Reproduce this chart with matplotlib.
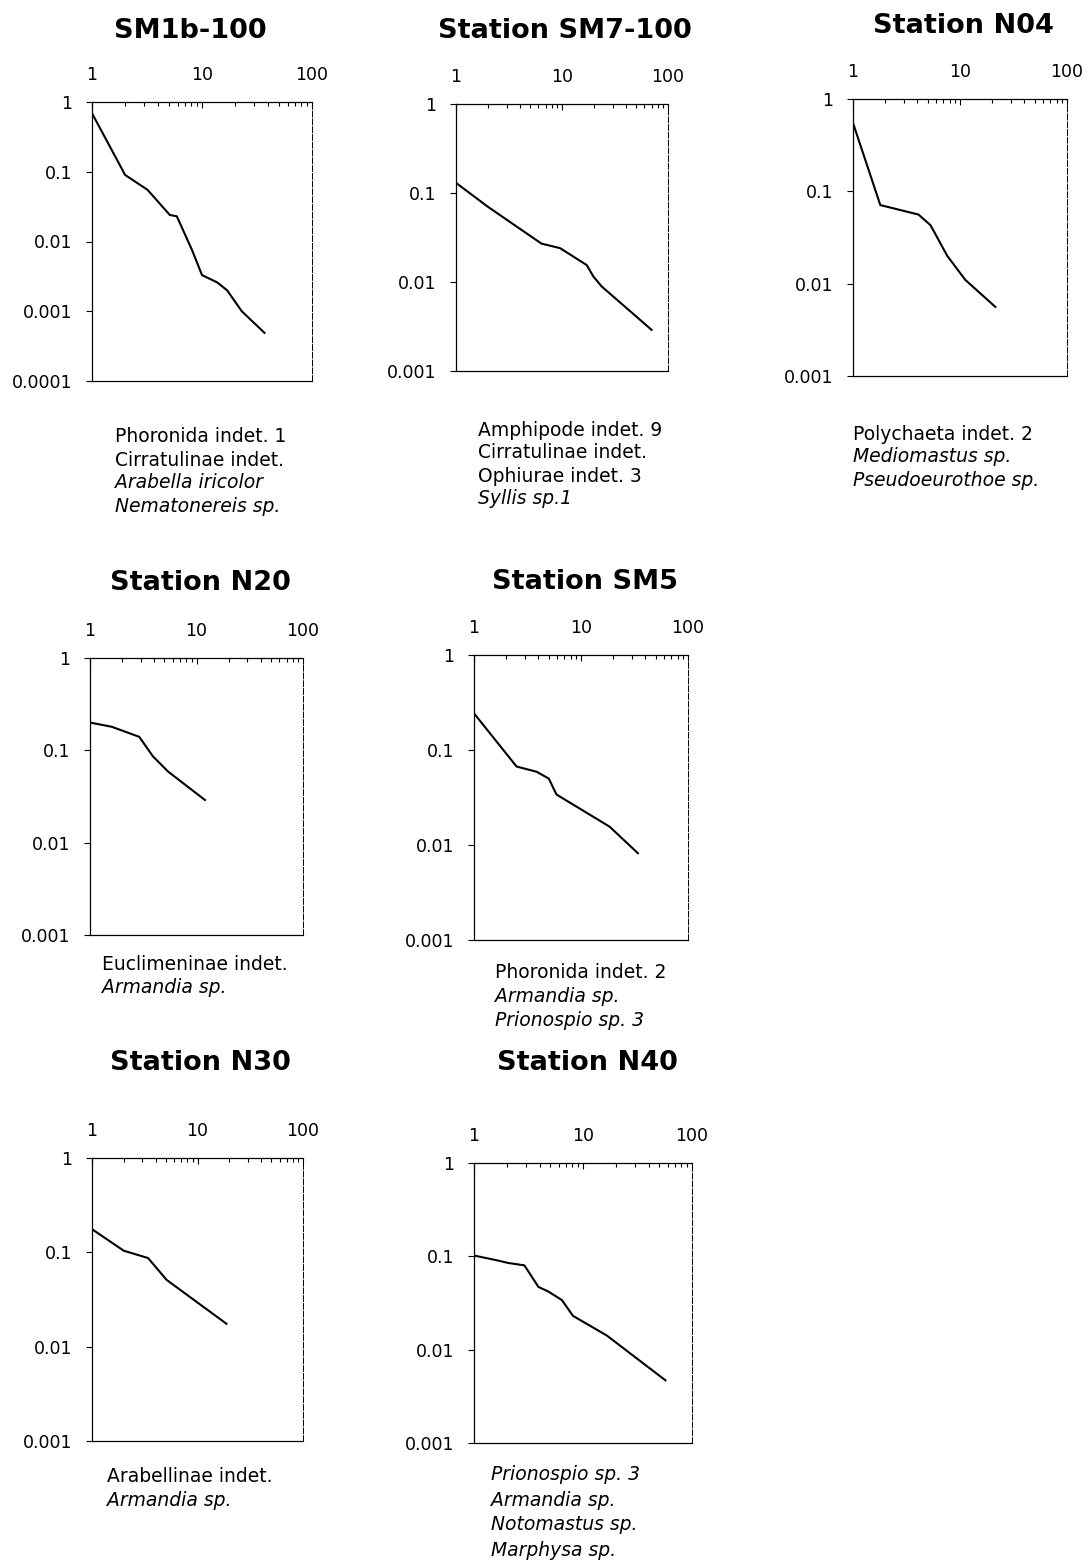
import numpy as np
import matplotlib
matplotlib.use('Agg')
import matplotlib.pyplot as plt
from matplotlib.ticker import FixedLocator, FixedFormatter, LogLocator, NullFormatter

plt.rcParams['font.family'] = ['DejaVu Sans']

# rank (x) vs. proportional abundance (y)
sm1b_rank = [1, 2, 3.2, 5.1, 5.9, 8.1, 10, 13.7, 16.9, 23, 37]
sm1b_prop = [0.69, 0.09, 0.055, 0.024, 0.023, 0.0076, 0.0033, 0.0026, 0.002, 0.001, 0.00049]

sm7_rank = [1, 2, 6.4, 9.6, 17.1, 19.8, 23.7, 70]
sm7_prop = [0.13, 0.070, 0.027, 0.024, 0.0155, 0.0115, 0.0089, 0.0029]

n04_rank = [1, 1.8, 4.1, 5.3, 7.6, 11.2, 21.4]
n04_prop = [0.55, 0.071, 0.056, 0.043, 0.020, 0.011, 0.0056]

n20_rank = [1, 1.6, 2.9, 3.9, 5.4, 12]
n20_prop = [0.20, 0.18, 0.14, 0.086, 0.059, 0.029]

sm5_rank = [1, 2.5, 3.85, 5.0, 5.9, 18.5, 34]
sm5_prop = [0.243, 0.067, 0.059, 0.050, 0.034, 0.0156, 0.0082]

n30_rank = [1, 2.0, 3.4, 5.1, 18.8]
n30_prop = [0.176, 0.104, 0.087, 0.051, 0.0175]

n40_rank = [1, 1.6, 2.05, 2.9, 3.9, 4.8, 6.4, 8.1, 16.5, 57]
n40_prop = [0.102, 0.091, 0.085, 0.080, 0.047, 0.042, 0.034, 0.023, 0.0142, 0.0047]

titles = ['SM1b-100', 'Station SM7-100', 'Station N04', 'Station N20',
          'Station SM5', 'Station N30', 'Station N40']

x_ticks = [1, 10, 100]
x_labels = ['1', '10', '100']
y_ticks = [1e-4, 1e-3, 1e-2, 1e-1, 1]
y_labels = ['0.0001', '0.001', '0.01', '0.1', '1']

# dominant taxa under each panel: (text, italic)
captions = [
    [('Phoronida indet. 1', False), ('Cirratulinae indet.', False),
     ('Arabella iricolor', True), ('Nematonereis sp.', True)],
    [('Amphipode indet. 9', False), ('Cirratulinae indet.', False),
     ('Ophiurae indet. 3', False), ('Syllis sp.1', True)],
    [('Polychaeta indet. 2', False), ('Mediomastus sp.', True),
     ('Pseudoeurothoe sp.', True)],
    [('Euclimeninae indet.', False), ('Armandia sp.', True)],
    [('Phoronida indet. 2', False), ('Armandia sp.', True),
     ('Prionospio sp. 3', True)],
    [('Arabellinae indet.', False), ('Armandia sp.', True)],
    [('Prionospio sp. 3', True), ('Armandia sp.', True),
     ('Notomastus sp.', True), ('Marphysa sp.', True)],
]

series = [(sm1b_rank, sm1b_prop), (sm7_rank, sm7_prop), (n04_rank, n04_prop),
          (n20_rank, n20_prop), (sm5_rank, sm5_prop), (n30_rank, n30_prop),
          (n40_rank, n40_prop)]
ymins = [1e-4, 1e-3, 1e-3, 1e-3, 1e-3, 1e-3, 1e-3]

# layout in pixels: axes (left, right, top, bottom), title centre, caption start
W, H = 1088, 1568
boxes = [(92, 312, 102, 381), (456, 668, 104, 371), (853, 1067, 99, 376),
         (90, 303, 658, 935), (474, 688, 655, 940), (92, 303, 1158, 1441),
         (474, 692, 1163, 1443)]
title_pos = [(190, 31), (565, 31), (963, 26), (200, 583), (585, 582),
             (200, 1063), (587, 1063)]
cap_pos = [(115, 437, 23), (478, 430, 23), (853, 434, 23), (102, 965, 23),
           (495, 972, 24), (107, 1476, 24), (491, 1475, 25)]

fig = plt.figure(figsize=(W / 100, H / 100), dpi=100)

for i, (rank, prop) in enumerate(series):
    l, r, t, b = boxes[i]
    ax = fig.add_axes([l / W, 1 - b / H, (r - l) / W, (b - t) / H])
    ax.plot(rank, prop, color='black', lw=1.5)
    ax.set_xscale('log')
    ax.set_yscale('log')
    ax.set_xlim(1, 100)
    ax.set_ylim(ymins[i], 1)

    ax.xaxis.tick_top()
    ax.xaxis.set_major_locator(FixedLocator(x_ticks))
    ax.xaxis.set_major_formatter(FixedFormatter(x_labels))
    ax.xaxis.set_minor_locator(LogLocator(base=10, subs=np.arange(2, 10)))
    ax.xaxis.set_minor_formatter(NullFormatter())
    ax.tick_params(axis='x', which='major', direction='in', length=4, width=0.8,
                   labelsize=12.5, pad=13)
    ax.tick_params(axis='x', which='minor', direction='in', length=3, width=0.8)

    yt = [v for v in y_ticks if v >= ymins[i]]
    yl = [y_labels[y_ticks.index(v)] for v in yt]
    ax.yaxis.set_major_locator(FixedLocator(yt))
    ax.yaxis.set_major_formatter(FixedFormatter(yl))
    ax.yaxis.set_minor_locator(FixedLocator([]))
    ax.tick_params(axis='y', which='major', direction='out', length=4, width=0.8,
                   labelsize=12.5, pad=10)

    for s in ax.spines.values():
        s.set_linewidth(0.9)
        s.set_color('black')
    ax.spines['right'].set_linestyle((0, (6, 2)))
    ax.spines['right'].set_linewidth(0.7)

    cx, cy = title_pos[i]
    fig.text(cx / W, 1 - cy / H, titles[i], ha='center', va='center',
             fontsize=19.5, fontweight='bold')

    x0, y0, step = cap_pos[i]
    for k, (txt, ital) in enumerate(captions[i]):
        fig.text(x0 / W, 1 - (y0 + k * step) / H, txt, ha='left', va='center',
                 fontsize=13.5, style='italic' if ital else 'normal')

fig.savefig('out.png', dpi=100, facecolor='white')
